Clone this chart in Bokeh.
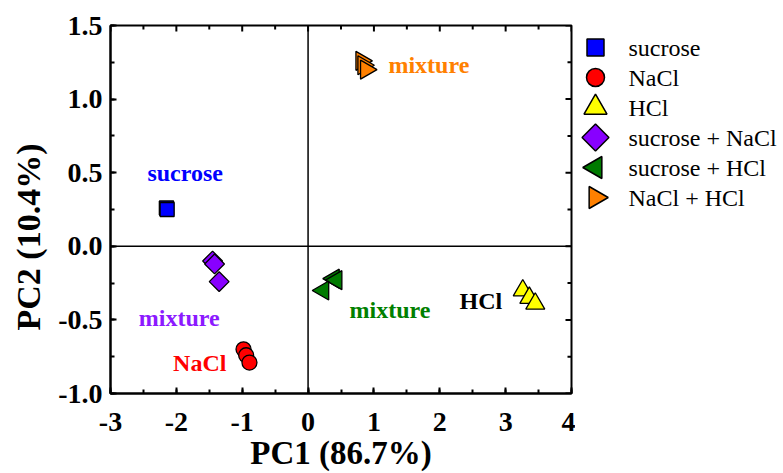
import math
from bokeh.plotting import figure
from bokeh.layouts import row
from bokeh.models import (Range1d, Span, PrintfTickFormatter,
                          SingleIntervalTicker, ColumnDataSource)
from bokeh.core.properties import value
from bokeh.embed import file_html
from bokeh.resources import INLINE

# ---- data ----
sucrose_x = [-2.15, -2.15, -2.14]
sucrose_y = [0.26, 0.26, 0.25]
nacl_x = [-0.98, -0.94, -0.89]
nacl_y = [-0.70, -0.74, -0.79]
hcl_x = [3.26, 3.36, 3.45]
hcl_y = [-0.30, -0.35, -0.39]
suc_nacl_x = [-1.45, -1.42, -1.35]
suc_nacl_y = [-0.10, -0.12, -0.24]
suc_hcl_x = [0.39, 0.43, 0.23]
suc_hcl_y = [-0.22, -0.23, -0.30]
nacl_hcl_x = [0.81, 0.84, 0.88]
nacl_hcl_y = [1.26, 1.23, 1.20]

legend_names = ["sucrose", "NaCl", "HCl", "sucrose + NaCl", "sucrose + HCl", "NaCl + HCl"]
fill_colors = ["#0000FF", "#FF0000", "#FFFF00", "#8800FF", "#007A00", "#FF8000"]

# annotation texts and their anchor positions (data units, left aligned)
note_text = ["sucrose", "mixture", "mixture", "NaCl", "mixture", "HCl"]
note_x = [-2.44, 1.22, -2.57, -2.05, 0.63, 2.30]
note_y = [0.50, 1.23, -0.49, -0.79, -0.43, -0.37]
note_color = ["#0000FF", "#FF8000", "#8C1AFF", "#FF0000", "#008000", "#000000"]

# axis ticks
x_major = [-3, -2, -1, 0, 1, 2, 3, 4]
x_minor = [-2.5, -1.5, -0.5, 0.5, 1.5, 2.5, 3.5]
y_major = [-1.0, -0.5, 0.0, 0.5, 1.0, 1.5]
y_minor = [-0.75, -0.25, 0.25, 0.75, 1.25]
X_MIN, X_MAX, Y_MIN, Y_MAX = -3, 4, -1.0, 1.5

x_title = "PC1 (86.7%)"
y_title = "PC2 (10.4%)"

FONT = "Liberation Serif"

# marker style per series: (marker, size in plot, size in legend, angle)
styles = [
    ("square", 14, 17, 0.0),
    ("circle", 15, 18, 0.0),
    ("triangle", 19, 23, 0.0),
    ("square", 14, 19, math.pi / 4),
    ("triangle", 19, 22, math.pi / 2),
    ("triangle", 19, 22, -math.pi / 2),
]
series_x = [sucrose_x, nacl_x, hcl_x, suc_nacl_x, suc_hcl_x, nacl_hcl_x]
series_y = [sucrose_y, nacl_y, hcl_y, suc_nacl_y, suc_hcl_y, nacl_hcl_y]

H = 473
TOP, BOTTOM = 25, 80
TW = 50            # width of the strip holding the y-axis title

def blank_fig(w, xr, yr):
    f = figure(width=w, height=H, output_backend="svg", toolbar_location=None,
               x_range=xr, y_range=yr, min_border_left=0, min_border_right=0,
               min_border_top=TOP, min_border_bottom=BOTTOM)
    f.axis.visible = False
    f.grid.visible = False
    f.outline_line_color = None
    f.background_fill_color = "white"
    f.border_fill_color = "white"
    return f

# ---- y-axis title strip ----
yt_fig = blank_fig(TW, Range1d(0, TW), Range1d(Y_MIN, Y_MAX))
yt_fig.text(x=[27.5], y=[Y_MIN], text=[y_title], angle=math.pi / 2, y_offset=-63,
            text_font=value(FONT), text_font_style="bold", text_font_size="34px",
            text_color="black", text_align="left", text_baseline="middle")

# ---- main plot ----
p = figure(width=575 - TW, height=H, output_backend="svg", toolbar_location=None,
           x_range=Range1d(X_MIN, X_MAX), y_range=Range1d(Y_MIN, Y_MAX),
           min_border_left=110 - TW, min_border_right=4, min_border_top=TOP,
           min_border_bottom=BOTTOM)
p.xgrid.visible = False
p.ygrid.visible = False
p.outline_line_color = "black"
p.outline_line_width = 2
p.background_fill_color = "white"
p.border_fill_color = "white"

for ax in (p.xaxis[0], p.yaxis[0]):
    ax.axis_line_width = 2
    ax.axis_line_color = "black"
    ax.major_tick_in = 6
    ax.major_tick_out = 0
    ax.minor_tick_in = 4
    ax.minor_tick_out = 0
    ax.major_tick_line_width = 2
    ax.minor_tick_line_width = 2
    ax.major_label_text_font = FONT
    ax.major_label_text_font_style = "bold"
    ax.major_label_text_font_size = "28px"
    ax.major_label_text_color = "black"
    ax.axis_label_text_font = FONT
    ax.axis_label_text_font_style = "bold"
    ax.axis_label_text_font_size = "33px"
    ax.axis_label_text_color = "black"

p.xaxis.ticker = SingleIntervalTicker(interval=1, num_minor_ticks=2)
p.yaxis.ticker = SingleIntervalTicker(interval=0.5, num_minor_ticks=2)
p.xaxis.formatter = PrintfTickFormatter(format="%d")
p.yaxis.formatter = PrintfTickFormatter(format="%.1f")
p.xaxis.major_label_standoff = 19
p.yaxis.major_label_standoff = 8
p.xaxis.axis_label = x_title
p.xaxis.axis_label_standoff = 1

# mirrored inward ticks on the top and right edges (clipped to the frame)
tick_kw = dict(marker="dash", line_color="black", line_width=2)
p.scatter(x_major, [Y_MAX] * len(x_major), size=12, angle=math.pi / 2, **tick_kw)
p.scatter(x_minor, [Y_MAX] * len(x_minor), size=8, angle=math.pi / 2, **tick_kw)
p.scatter([X_MAX] * len(y_major), y_major, size=12, angle=0, **tick_kw)
p.scatter([X_MAX] * len(y_minor), y_minor, size=8, angle=0, **tick_kw)

# zero lines
p.add_layout(Span(location=0, dimension="height", line_color="black", line_width=1.5))
p.add_layout(Span(location=0, dimension="width", line_color="black", line_width=1.5))

for xs, ys, (mk, sz, lsz, ang), col in zip(series_x, series_y, styles, fill_colors):
    src = ColumnDataSource(dict(x=xs, y=ys))
    p.scatter("x", "y", source=src, marker=mk, size=sz, angle=ang,
              fill_color=col, line_color="black", line_width=1.3)

note_src = ColumnDataSource(dict(x=note_x, y=note_y, t=note_text, c=note_color))
p.text("x", "y", text="t", source=note_src, text_color="c",
       text_font=value(FONT), text_font_style="bold", text_font_size="24px",
       text_align="left", text_baseline="middle")

# ---- legend panel (its own small figure so the rotated markers show) ----
LW = 208
FRAME_H = H - TOP - BOTTOM
ROW0, ROWSTEP = 22, 30          # first row centre below the frame top, row pitch
lg = blank_fig(LW, Range1d(0, LW),
               Range1d((FRAME_H - ROW0) / ROWSTEP, -ROW0 / ROWSTEP))

rows_idx = list(range(len(legend_names)))
for i, ((mk, sz, lsz, ang), col) in enumerate(zip(styles, fill_colors)):
    lg.scatter([20], [rows_idx[i]], marker=mk, size=lsz, angle=ang,
               fill_color=col, line_color="black", line_width=1.5)
lg_src = ColumnDataSource(dict(x=[53] * len(legend_names), y=rows_idx, t=legend_names))
lg.text("x", "y", text="t", source=lg_src, text_color="black",
        text_font=value(FONT), text_font_size="24px",
        text_align="left", text_baseline="middle")

layout = row(yt_fig, p, lg, spacing=0)
open("out.html", "w").write(file_html(layout, INLINE))
